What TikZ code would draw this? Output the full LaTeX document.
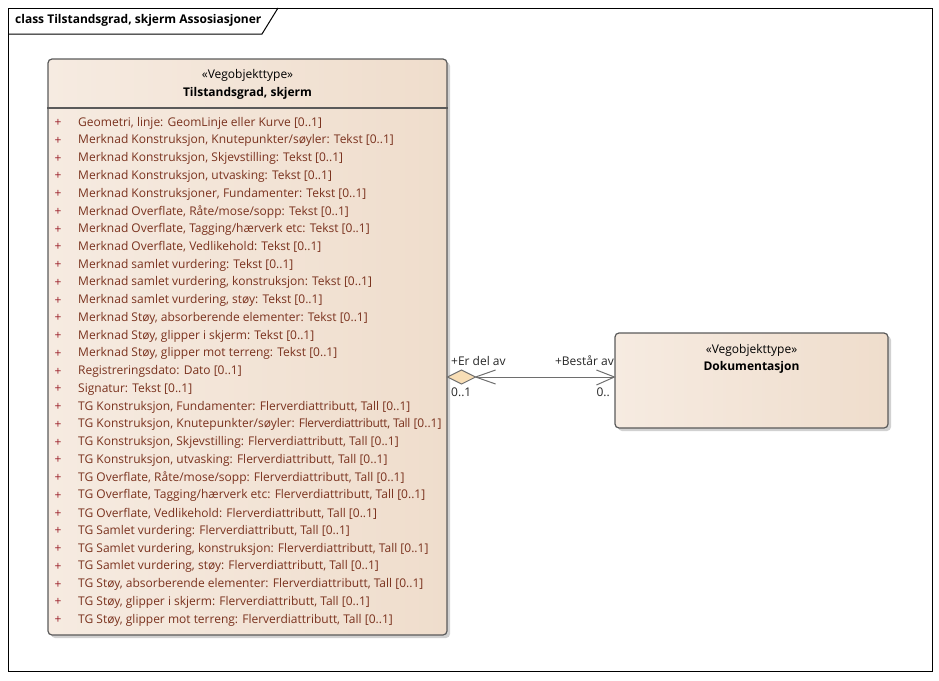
\documentclass[tikz,border=0pt]{standalone}
\usepackage{fontspec}
\setmainfont{Open Sans}
\usetikzlibrary{shadows}
\definecolor{attrcol}{RGB}{122,50,30}
\definecolor{pluscol}{RGB}{155,30,40}
\definecolor{boxline}{RGB}{90,90,90}
\definecolor{tanL}{RGB}{246,235,225}
\definecolor{tanM}{RGB}{253,250,247}
\definecolor{tanR}{RGB}{239,221,204}
\definecolor{diamcol}{RGB}{248,222,182}
\definecolor{conline}{RGB}{110,110,110}
\tikzset{
	classbox/.style={draw=boxline, line width=1.2pt, rounded corners=4pt,
		left color=tanL, middle color=tanM, right color=tanR,
		drop shadow={shadow xshift=3pt, shadow yshift=-3pt, fill=black!30, opacity=.6},
		inner sep=0pt},
	attr/.style={anchor=west, text=attrcol, inner sep=0pt},
	plus/.style={text=pluscol, inner sep=0pt},
	role/.style={inner sep=0pt, text=black!85},
	con/.style={draw=conline, line width=1pt}
}
\begin{document}
\begin{tikzpicture}[x=1pt,y=-1pt,font=\fontsize{12}{14}\selectfont]
	\useasboundingbox (0,0) rectangle (939,680);
	% frame and title tab
	\draw[line width=1pt] (8,8) rectangle (932,671);
	\draw[line width=1pt] (8,34) -- (262,34) -- (278,8);
	\node[anchor=west, inner sep=0pt] (title) at (15,20) {\textbf{class Tilstandsgrad, skjerm Assosiasjoner}};
	
	% classes
	\node[classbox, minimum width=399pt, minimum height=576pt] (tg) at (247.5,347) {};
	\draw[boxline, line width=1.2pt] (tg.west |- 0,108) -- (tg.east |- 0,108);
	\node[inner sep=0pt] (tgst) at (247.5,75) {«Vegobjekttype»};
	\node[inner sep=0pt] (tgname) at (247.5,93) {\textbf{Tilstandsgrad, skjerm}};
	
	\node[classbox, minimum width=273pt, minimum height=95pt] (doc) at (751.5,380.5) {};
	\node[inner sep=0pt] (docst) at (751.5,350) {«Vegobjekttype»};
	\node[inner sep=0pt] (docname) at (751.5,367) {\textbf{Dokumentasjon}};
	
	% attributes
	\foreach \txt [count=\i] in {
		{Geometri, linje: GeomLinje eller Kurve [0..1]},
		{Merknad Konstruksjon, Knutepunkter/søyler: Tekst [0..1]},
		{Merknad Konstruksjon, Skjevstilling: Tekst [0..1]},
		{Merknad Konstruksjon, utvasking: Tekst [0..1]},
		{Merknad Konstruksjoner, Fundamenter: Tekst [0..1]},
		{Merknad Overflate, Råte/mose/sopp: Tekst [0..1]},
		{Merknad Overflate, Tagging/hærverk etc: Tekst [0..1]},
		{Merknad Overflate, Vedlikehold: Tekst [0..1]},
		{Merknad samlet vurdering: Tekst [0..1]},
		{Merknad samlet vurdering, konstruksjon: Tekst [0..1]},
		{Merknad samlet vurdering, støy: Tekst [0..1]},
		{Merknad Støy, absorberende elementer: Tekst [0..1]},
		{Merknad Støy, glipper i skjerm: Tekst [0..1]},
		{Merknad Støy, glipper mot terreng: Tekst [0..1]},
		{Registreringsdato: Dato [0..1]},
		{Signatur: Tekst [0..1]},
		{TG Konstruksjon, Fundamenter: Flerverdiattributt, Tall [0..1]},
		{TG Konstruksjon, Knutepunkter/søyler: {\addfontfeature{LetterSpace=-3}Flerverdiattributt, Tall} [0..1]},
		{TG Konstruksjon, Skjevstilling: Flerverdiattributt, Tall [0..1]},
		{TG Konstruksjon, utvasking: Flerverdiattributt, Tall [0..1]},
		{TG Overflate, Råte/mose/sopp: Flerverdiattributt, Tall [0..1]},
		{TG Overflate, Tagging/hærverk etc: Flerverdiattributt, Tall [0..1]},
		{TG Overflate, Vedlikehold: Flerverdiattributt, Tall [0..1]},
		{TG Samlet vurdering: Flerverdiattributt, Tall [0..1]},
		{TG Samlet vurdering, konstruksjon: Flerverdiattributt, Tall [0..1]},
		{TG Samlet vurdering, støy: Flerverdiattributt, Tall [0..1]},
		{TG Støy, absorberende elementer: Flerverdiattributt, Tall [0..1]},
		{TG Støy, glipper i skjerm: Flerverdiattributt, Tall [0..1]},
		{TG Støy, glipper mot terreng: Flerverdiattributt, Tall [0..1]}}
	{
		\node[plus] (plus\i) at (58,105.25+17.75*\i) {+};
		\node[attr] (attr\i) at (78,105.25+17.75*\i) {\txt};
	}
	
	% association
	\coordinate (endL) at (tg.east |- 0,377);
	\coordinate (endR) at (doc.west |- 0,377);
	\draw[con, fill=diamcol] (endL) -- ++(14,-7) coordinate (dT) -- ++(14,7) coordinate (dR) -- ++(-14,7) -- cycle;
	\draw[con] (dR) -- (endR);
	\draw[con] ([shift={(20,-7)}]dR) -- (dR) -- ([shift={(20,7)}]dR);
	\draw[con] ([shift={(-18,-7)}]endR) -- (endR) -- ([shift={(-18,8)}]endR);
	
	\node[role, anchor=west] (roleL) at (451,361) {+Er del av};
	\node[role, anchor=west] (multL) at (451,392) {0..1};
	\node[role, anchor=east] (roleR) at (614,361) {+Består av};
	\node[role, anchor=east] (multR) at (610,392) {0..};
\end{tikzpicture}
\end{document}
